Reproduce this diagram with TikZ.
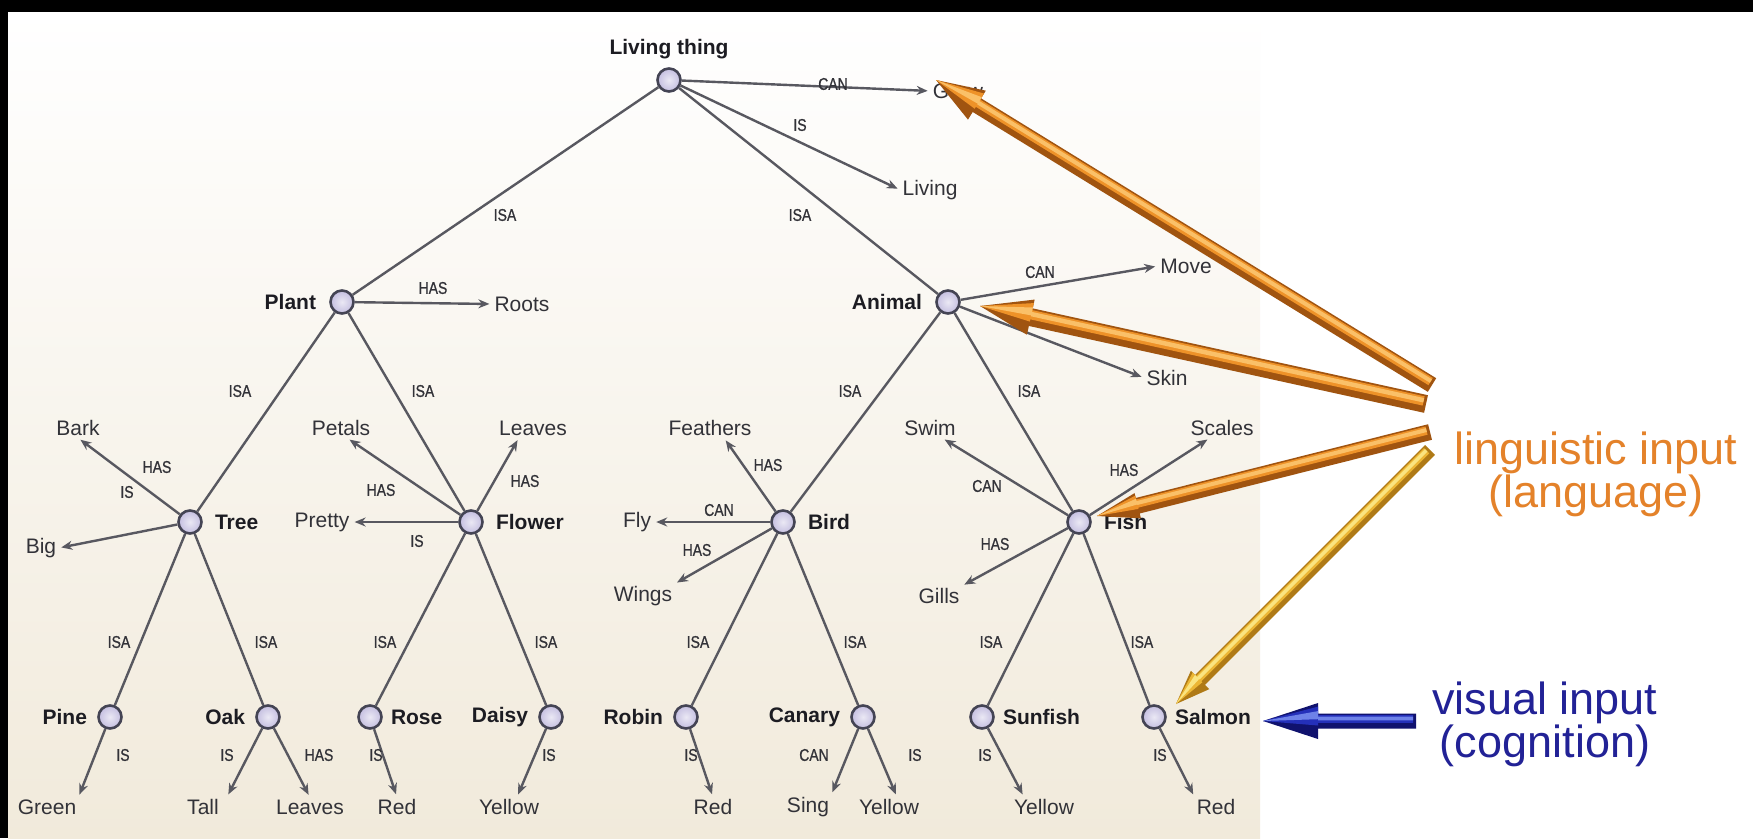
\documentclass[tikz,border=0pt]{standalone}
\usepackage{fontspec}
\setmainfont{Liberation Sans}
\newfontfamily\relfont[FakeStretch=0.82,FakeBold=0.8]{Liberation Sans}
\usetikzlibrary{calc,arrows.meta,positioning}

\definecolor{edgegray}{RGB}{88,88,96}
\definecolor{txtdark}{RGB}{28,28,34}
\definecolor{txtprop}{RGB}{50,50,56}
\definecolor{panelbot}{RGB}{241,234,219}
\definecolor{nodefill}{RGB}{196,190,224}
\definecolor{nodeline}{RGB}{68,68,84}
\definecolor{langorange}{RGB}{228,130,42}
\definecolor{visblue}{RGB}{34,34,150}
\definecolor{orShadow}{RGB}{160,84,16}
\definecolor{orBody}{RGB}{238,146,40}
\definecolor{orLight}{RGB}{250,192,104}
\definecolor{ylShadow}{RGB}{175,122,22}
\definecolor{ylBody}{RGB}{236,182,52}
\definecolor{ylLight}{RGB}{250,228,128}
\definecolor{blShadow}{RGB}{16,18,110}
\definecolor{blBody}{RGB}{36,48,186}
\definecolor{blLight}{RGB}{110,130,232}

\tikzset{
  concept/.style={circle, minimum size=23pt, inner sep=0pt, draw=nodeline,
    line width=2.6pt, inner color=white!65!nodefill, outer color=nodefill},
  clabel/.style={font=\fontsize{21}{24}\selectfont\bfseries, text=txtdark, inner sep=1pt},
  prop/.style={font=\fontsize{21}{24}\selectfont, text=txtprop, inner sep=2pt},
  rel/.style={font=\relfont\fontsize{17}{19}\selectfont, text=txtprop, inner sep=0pt},
  link/.style={draw=edgegray, line width=2.4pt},
  attr/.style={link, -{Stealth[length=11pt,width=9pt]}, shorten >=3pt},
  bigtxt/.style={font=\fontsize{45}{38}\selectfont, align=center, inner sep=0pt},
}

% 3D tube arrow: #1 tail, #2 tip, #3 shadow, #4 body, #5 highlight,
% #6 shaft half width, #7 head half width, #8 head length
\newcommand{\tubearrow}[8]{%
  \pgfmathsetlengthmacro{\tbS}{#6}%
  \pgfmathsetlengthmacro{\tbH}{#7}%
  \pgfmathsetlengthmacro{\tbSa}{0.8*#6}%
  \pgfmathsetlengthmacro{\tbSb}{0.25*#6}%
  \pgfmathsetlengthmacro{\tbSc}{0.6*#6}%
  \pgfmathsetlengthmacro{\tbSd}{0.1*#6}%
  \pgfmathsetlengthmacro{\tbHa}{0.8*#7}%
  \pgfmathsetlengthmacro{\tbHb}{0.25*#7}%
  \pgfmathsetlengthmacro{\tbHc}{0.55*#7}%
  \pgfmathsetlengthmacro{\tbHd}{0.1*#7}%
  \coordinate (tbBase) at ($(#2)!#8!(#1)$);
  \coordinate (tbTail) at ($(#1)!3pt!(#2)$);
  \fill[#3] ($(#1)!\tbS!90:(#2)$) -- ($(tbBase)!\tbS!90:(#2)$) -- ($(tbBase)!\tbH!90:(#2)$)
    -- (#2) -- ($(tbBase)!\tbH!-90:(#2)$) -- ($(tbBase)!\tbS!-90:(#2)$) -- ($(#1)!\tbS!-90:(#2)$) -- cycle;
  \fill[#4] ($(tbTail)!\tbSa!-90:(#2)$) -- ($(tbBase)!\tbSa!-90:(#2)$) -- ($(tbBase)!\tbHa!-90:(#2)$)
    -- (#2) -- ($(tbBase)!\tbHb!90:(#2)$) -- ($(tbBase)!\tbSb!90:(#2)$) -- ($(tbTail)!\tbSb!90:(#2)$) -- cycle;
  \fill[#5] ($(tbTail)!\tbSc!-90:(#2)$) -- ($(tbBase)!\tbSc!-90:(#2)$) -- ($(tbBase)!\tbHc!-90:(#2)$)
    -- (#2) -- ($(tbBase)!\tbHd!-90:(#2)$) -- ($(tbBase)!\tbSd!-90:(#2)$) -- ($(tbTail)!\tbSd!-90:(#2)$) -- cycle;
}

\begin{document}
\begin{tikzpicture}[x=1pt,y=-1pt]
\useasboundingbox (0,0) rectangle (1753,838);
\fill[white] (0,0) rectangle (1753,838);
% panel behind the hierarchy
\shade[top color=white, bottom color=panelbot] (8,12) rectangle (1260,838);
\fill[black] (0,0) rectangle (1753,12);
\fill[black] (0,0) rectangle (8,838);

% ---------- concept nodes ----------
\node[concept] (living)  at (669,80)  {};
\node[concept] (plant)   at (342,302) {};
\node[concept] (animal)  at (948,302) {};
\node[concept] (tree)    at (190,522) {};
\node[concept] (flower)  at (471,522) {};
\node[concept] (bird)    at (783,522) {};
\node[concept] (fish)    at (1079,522) {};
\node[concept] (pine)    at (110,717) {};
\node[concept] (oak)     at (268,717) {};
\node[concept] (rose)    at (370,717) {};
\node[concept] (daisy)   at (551,717) {};
\node[concept] (robin)   at (686,717) {};
\node[concept] (canary)  at (863,717) {};
\node[concept] (sunfish) at (982,717) {};
\node[concept] (salmon)  at (1154,717) {};

\node[clabel, above=7pt of living] (livingL) {Living thing};
\node[clabel, left=12pt of plant]   (plantL)   {Plant};
\node[clabel, left=12pt of animal]  (animalL)  {Animal};
\node[clabel, right=11pt of tree]   (treeL)    {Tree};
\node[clabel, right=11pt of flower] (flowerL)  {Flower};
\node[clabel, right=11pt of bird]   (birdL)    {Bird};
\node[clabel, right=11pt of fish]   (fishL)    {Fish};
\node[clabel, left=9pt of pine]     (pineL)    {Pine};
\node[clabel, left=9pt of oak]      (oakL)     {Oak};
\node[clabel, right=7pt of rose]    (roseL)    {Rose};
\node[clabel, left=9pt of daisy]    (daisyL)   {Daisy};
\node[clabel, left=9pt of robin]    (robinL)   {Robin};
\node[clabel, left=9pt of canary]   (canaryL)  {Canary};
\node[clabel, right=7pt of sunfish] (sunfishL) {Sunfish};
\node[clabel, right=7pt of salmon]  (salmonL)  {Salmon};

% ---------- property nodes ----------
\node[prop] (grow)     at (958,91)   {Grow};
\node[prop] (livingP)  at (930,190)  {Living};
\node[prop] (roots)    at (522,304)  {Roots};
\node[prop] (move)     at (1186,266) {Move};
\node[prop] (skin)     at (1167,378) {Skin};
\node[prop] (bark)     at (78,428)   {Bark};
\node[prop] (big)      at (41,548)   {Big};
\node[prop] (petals)   at (341,428)  {Petals};
\node[prop] (leavesA)  at (533,428)  {Leaves};
\node[prop] (pretty)   at (322,522)  {Pretty};
\node[prop] (feathers) at (710,428)  {Feathers};
\node[prop] (fly)      at (637,522)  {Fly};
\node[prop] (wings)    at (643,596)  {Wings};
\node[prop] (swim)     at (930,428)  {Swim};
\node[prop] (scales)   at (1222,428) {Scales};
\node[prop] (gills)    at (939,596)  {Gills};
\node[prop] (green)    at (47,807)   {Green};
\node[prop] (tall)     at (203,807)  {Tall};
\node[prop] (leavesB)  at (310,807)  {Leaves};
\node[prop] (redA)     at (397,807)  {Red};
\node[prop] (yellowA)  at (509,807)  {Yellow};
\node[prop] (redB)     at (713,807)  {Red};
\node[prop] (sing)     at (808,807)  {Sing};
\node[prop] (yellowB)  at (889,807)  {Yellow};
\node[prop] (yellowC)  at (1044,807) {Yellow};
\node[prop] (redC)     at (1216,807) {Red};

% ---------- ISA links ----------
\draw[link] (living) -- (plant);
\draw[link] (living) -- (animal);
\draw[link] (plant) -- (tree);
\draw[link] (plant) -- (flower);
\draw[link] (animal) -- (bird);
\draw[link] (animal) -- (fish);
\draw[link] (tree) -- (pine);
\draw[link] (tree) -- (oak);
\draw[link] (flower) -- (rose);
\draw[link] (flower) -- (daisy);
\draw[link] (bird) -- (robin);
\draw[link] (bird) -- (canary);
\draw[link] (fish) -- (sunfish);
\draw[link] (fish) -- (salmon);

% ---------- property links ----------
\draw[attr] (living) -- (grow.west);
\draw[attr] (living) -- (livingP.west);
\draw[attr] (plant) -- (roots.west);
\draw[attr] (animal) -- (move.west);
\draw[attr] (animal) -- (skin.west);
\draw[attr] (tree) -- (bark.south);
\draw[attr] (tree) -- (big.east);
\draw[attr] (flower) -- ([xshift=6pt]petals.south);
\draw[attr] (flower) -- ([xshift=-14pt]leavesA.south);
\draw[attr] (flower) -- (pretty.east);
\draw[attr] (bird) -- ([xshift=14pt]feathers.south);
\draw[attr] (bird) -- (fly.east);
\draw[attr] (bird) -- (wings.north east);
\draw[attr] (fish) -- ([xshift=12pt]swim.south);
\draw[attr] (fish) -- ([xshift=-12pt]scales.south);
\draw[attr] (fish) -- (gills.north east);
\draw[attr] (pine) -- (green.north east);
\draw[attr] (oak) -- ([xshift=6pt]tall.north east);
\draw[attr] (oak) -- (leavesB.north);
\draw[attr] (rose) -- (redA.north);
\draw[attr] (daisy) -- ([xshift=8pt]yellowA.north);
\draw[attr] (robin) -- (redB.north);
\draw[attr] (canary) -- (sing.north east);
\draw[attr] (canary) -- ([xshift=8pt]yellowB.north);
\draw[attr] (sunfish) -- ([xshift=-20pt]yellowC.north);
\draw[attr] (salmon) -- (redC.north west);

% ---------- relation labels ----------
\node[rel] (rCanGrow)   at (833,84)   {CAN};
\node[rel] (rIsLiving)  at (800,125)  {IS};
\node[rel] (rIsaPlant)  at (505,215)  {ISA};
\node[rel] (rIsaAnimal) at (800,215)  {ISA};
\node[rel] (rHasRoots)  at (433,288)  {HAS};
\node[rel] (rCanMove)   at (1040,272) {CAN};
\node[rel] (rIsaTree)   at (240,391)  {ISA};
\node[rel] (rIsaFlower) at (423,391)  {ISA};
\node[rel] (rIsaBird)   at (850,391)  {ISA};
\node[rel] (rIsaFish)   at (1029,391) {ISA};
\node[rel] (rHasBark)   at (157,467)  {HAS};
\node[rel] (rIsBig)     at (127,492)  {IS};
\node[rel] (rHasPetals) at (381,490)  {HAS};
\node[rel] (rHasLeaves) at (525,481)  {HAS};
\node[rel] (rIsPretty)  at (417,541)  {IS};
\node[rel] (rHasFeath)  at (768,465)  {HAS};
\node[rel] (rCanFly)    at (719,510)  {CAN};
\node[rel] (rHasWings)  at (697,550)  {HAS};
\node[rel] (rCanSwim)   at (987,486)  {CAN};
\node[rel] (rHasScales) at (1124,470) {HAS};
\node[rel] (rHasGills)  at (995,544)  {HAS};
\node[rel] (rIsaPine)   at (119,642)  {ISA};
\node[rel] (rIsaOak)    at (266,642)  {ISA};
\node[rel] (rIsaRose)   at (385,642)  {ISA};
\node[rel] (rIsaDaisy)  at (546,642)  {ISA};
\node[rel] (rIsaRobin)  at (698,642)  {ISA};
\node[rel] (rIsaCanary) at (855,642)  {ISA};
\node[rel] (rIsaSunf)   at (991,642)  {ISA};
\node[rel] (rIsaSalmon) at (1142,642) {ISA};
\node[rel] (rIsGreen)   at (123,755)  {IS};
\node[rel] (rIsTall)    at (227,755)  {IS};
\node[rel] (rHasLeavesB) at (319,755) {HAS};
\node[rel] (rIsRedA)    at (376,755)  {IS};
\node[rel] (rIsYellowA) at (549,755)  {IS};
\node[rel] (rIsRedB)    at (691,755)  {IS};
\node[rel] (rCanSing)   at (814,755)  {CAN};
\node[rel] (rIsYellowB) at (915,755)  {IS};
\node[rel] (rIsYellowC) at (985,755)  {IS};
\node[rel] (rIsRedC)    at (1160,755) {IS};

% ---------- input captions ----------
\node[bigtxt, text=langorange] (ling) at (1596,474) {linguistic input\\(language)};
\node[bigtxt, text=visblue] (vis) at (1545,724) {visual input\\(cognition)};

% ---------- input arrows ----------
\coordinate (lgTailA) at (1432,385);
\coordinate (lgTailB) at (1426,404);
\coordinate (lgTailC) at (1430,432);
\coordinate (lgTailD) at (1430,450);
\coordinate (lgTipA) at (936,80);
\coordinate (lgTipB) at (980,306);
\coordinate (lgTipC) at (1097,516);
\coordinate (lgTipD) at (1176,704);
\coordinate (visTail) at (1416,721);
\coordinate (visTip) at (1263,721);

\tubearrow{lgTailA}{lgTipA}{orShadow}{orBody}{orLight}{8pt}{17pt}{48pt}
\tubearrow{lgTailB}{lgTipB}{orShadow}{orBody}{orLight}{9pt}{18pt}{52pt}
\tubearrow{lgTailC}{lgTipC}{orShadow}{orBody}{orLight}{8pt}{13pt}{42pt}
\tubearrow{lgTailD}{lgTipD}{ylShadow}{ylBody}{ylLight}{7pt}{13pt}{34pt}
\tubearrow{visTail}{visTip}{blShadow}{blBody}{blLight}{7.5pt}{18pt}{55pt}
\end{tikzpicture}
\end{document}
